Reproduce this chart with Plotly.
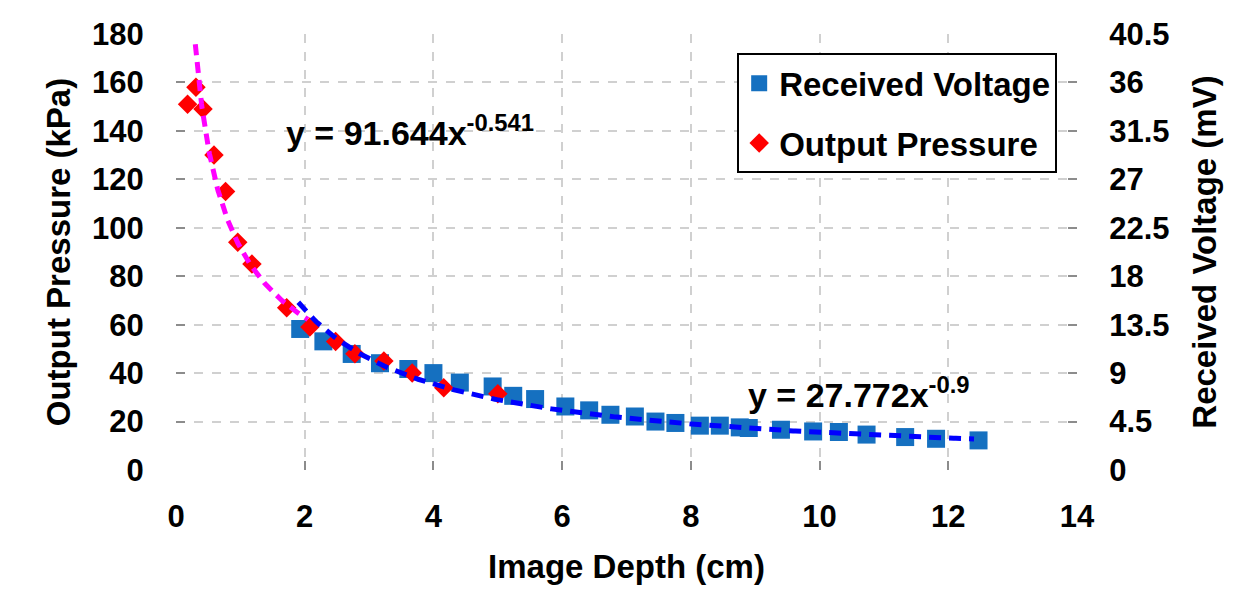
import numpy as np
import plotly.graph_objects as go

# ---- data ----
pressure_depth = [0.18, 0.31, 0.42, 0.59, 0.77, 0.96, 1.18, 1.72, 2.08, 2.48, 2.78, 3.23, 3.67, 4.16, 5.0]
pressure_kpa = [151, 158, 149, 130, 115, 94, 85, 67, 59, 53, 48, 45, 40, 34, 31.5]

voltage_depth = [1.93, 2.29, 2.73, 3.17, 3.61, 4.0, 4.41, 4.92, 5.24, 5.58, 6.05, 6.42, 6.75,
                 7.13, 7.45, 7.76, 8.14, 8.45, 8.76, 8.9, 9.4, 9.9, 10.3, 10.73, 11.33, 11.81, 12.47]
voltage_mv = [13.1, 11.95, 10.78, 9.92, 9.38, 9.0, 8.12, 7.76, 6.89, 6.59, 5.9, 5.54, 5.13,
              4.97, 4.5, 4.37, 4.12, 4.12, 3.96, 3.9, 3.74, 3.58, 3.53, 3.29, 3.06, 2.9, 2.75]

# trend line equations shown on the chart
pressure_fit = (91.644, -0.541)
pressure_fit_span = (0.3, 2.05)
voltage_fit = (27.772, -0.9)
voltage_fit_span = (1.9, 12.4)

x_ticks = [0, 2, 4, 6, 8, 10, 12, 14]
left_ticks = [0, 20, 40, 60, 80, 100, 120, 140, 160, 180]
right_ticks = [0, 4.5, 9, 13.5, 18, 22.5, 27, 31.5, 36, 40.5]

FONT = "Liberation Sans, Arial, sans-serif"
FS = 31
FT = 33

xp = np.linspace(*pressure_fit_span, 200)
yp = pressure_fit[0] * xp ** pressure_fit[1]
xv = np.linspace(*voltage_fit_span, 300)
yv = voltage_fit[0] * xv ** voltage_fit[1]

fig = go.Figure()
fig.add_trace(go.Scatter(x=voltage_depth, y=voltage_mv, mode="markers", name="Received Voltage",
                         yaxis="y2", legendgroup="a",
                         marker=dict(symbol="square", size=18, color="#1570C0"), zorder=0))
fig.add_trace(go.Scatter(x=pressure_depth, y=pressure_kpa, mode="markers", name="Output Pressure",
                         yaxis="y", legendgroup="b",
                         marker=dict(symbol="diamond", size=15, color="#FF0000"), zorder=1))
fig.add_trace(go.Scatter(x=xp, y=yp, mode="lines", showlegend=False, yaxis="y",
                         line=dict(color="#FF00FF", width=5, dash="11px,7px"), zorder=2))
fig.add_trace(go.Scatter(x=xv, y=yv, mode="lines", showlegend=False, yaxis="y2",
                         line=dict(color="#0000FF", width=5, dash="12px,8px"), zorder=3))

fig.add_annotation(x=1.68, y=140, xref="x", yref="y", xanchor="left", yanchor="middle",
                   text="y = 91.644x<sup>-0.541</sup>", showarrow=False,
                   font=dict(family=FONT, size=34, color="black", weight="bold"))
fig.add_annotation(x=8.86, y=7.2, xref="x", yref="y2", xanchor="left", yanchor="middle",
                   text="y = 27.772x<sup>-0.9</sup>", showarrow=False,
                   font=dict(family=FONT, size=34, color="black", weight="bold"))

axis_common = dict(showline=True, linecolor="#8C8C8C", linewidth=2, ticks="inside",
                   ticklen=9, tickwidth=2, tickcolor="#8C8C8C",
                   tickfont=dict(family=FONT, size=FS, color="black", weight="bold"),
                   zeroline=False)

fig.update_layout(
    width=1250, height=614,
    margin=dict(l=176, r=173, t=34, b=144),
    plot_bgcolor="white", paper_bgcolor="white",
    font=dict(family=FONT, size=FS, color="black"),
    xaxis=dict(range=[0, 14], tickvals=x_ticks, mirror=True, showgrid=True,
               gridcolor="#D0D0D0", griddash="dash", gridwidth=2,
               ticklabelstandoff=18,
               title=dict(text="Image Depth (cm)", standoff=22,
                          font=dict(family=FONT, size=FT, color="black", weight="bold")),
               **axis_common),
    yaxis=dict(range=[0, 180], tickvals=left_ticks, mirror=True, showgrid=True,
               gridcolor="#D0D0D0", griddash="dash", gridwidth=2,
               ticklabelstandoff=24,
               title=dict(text="Output Pressure (kPa)", standoff=12,
                          font=dict(family=FONT, size=FT, color="black", weight="bold")),
               **axis_common),
    yaxis2=dict(range=[0, 40.5], tickvals=right_ticks, overlaying="y", side="right",
                showgrid=False, ticklabelstandoff=24,
                title=dict(text="Received Voltage (mV)", standoff=24,
                           font=dict(family=FONT, size=FT, color="black", weight="bold")),
                **axis_common),
    legend=dict(x=0.978, y=0.956, xanchor="right", yanchor="top",
                bgcolor="white", bordercolor="black", borderwidth=2,
                font=dict(family=FONT, size=FT, color="black", weight="bold"),
                tracegroupgap=14, itemsizing="trace"),
    showlegend=True,
)

fig.write_html("out.html")
